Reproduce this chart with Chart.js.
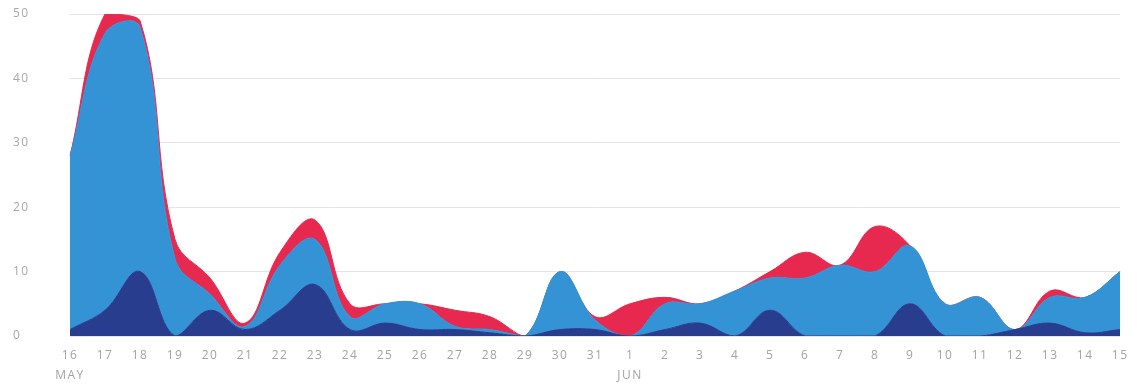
<!DOCTYPE html>
<html>
<head>
<meta charset="utf-8">
<script src="https://cdn.jsdelivr.net/npm/chart.js@4.4.1/dist/chart.umd.min.js"></script>
<style>
  html, body { margin: 0; padding: 0; background: #ffffff; }
  #wrap { width: 1137px; height: 385px; position: relative; }
</style>
</head>
<body>
<div id="wrap"><canvas id="chart"></canvas></div>
<script>
// Daily counts, 16 May – 15 Jun
const dayLabels = [
  ['16', 'MAY'], '17', '18', '19', '20', '21', '22', '23', '24', '25', '26', '27', '28', '29', '30', '31',
  ['1', 'JUN'], '2', '3', '4', '5', '6', '7', '8', '9', '10', '11', '12', '13', '14', '15'
];

// Stacked series, bottom to top
const seriesNavy = [1, 4, 10, 0, 4, 1, 4, 8, 1, 2, 1, 1, 0.5, 0, 1, 1,
                    0, 1, 2, 0, 4, 0, 0, 0, 5, 0, 0, 1, 2, 0.5, 1];
const seriesBlue = [27, 43, 38, 12, 2.5, 0.5, 7, 7, 2, 3, 4, 0.5, 0.5, 0, 9, 1.5,
                    0, 4, 3, 7, 5, 9, 11, 10, 9, 5, 6, 0, 4, 5.5, 9];
const seriesRed  = [0, 3, 1, 3, 2.5, 0.5, 2, 3, 2, 0, 0, 2.5, 2, 0, 0, 0.5,
                    5, 1, 0, 0, 1, 4, 0, 7, 0, 0, 0, 0, 1, 0, 0];

const yTicks = [0, 10, 20, 30, 40, 50];

const NAVY = '#283d8d';
const BLUE = '#3393d5';
const RED  = '#e8294f';

function areaSet(data, color, fill) {
  return {
    data: data,
    backgroundColor: color,
    borderColor: color,
    borderWidth: 1,
    fill: fill,
    tension: 0.4,
    pointRadius: 0,
    pointHoverRadius: 0
  };
}

// Slightly tracked-out axis text
const spacing = {
  id: 'labelSpacing',
  beforeDraw(chart) { chart.ctx.letterSpacing = '1.5px'; }
};

new Chart(document.getElementById('chart'), {
  type: 'line',
  data: {
    labels: dayLabels,
    datasets: [
      areaSet(seriesNavy, NAVY, 'origin'),
      areaSet(seriesBlue, BLUE, '-1'),
      areaSet(seriesRed, RED, '-1')
    ]
  },
  options: {
    responsive: true,
    maintainAspectRatio: false,
    animation: false,
    layout: { padding: { left: 13, right: 7, top: 14, bottom: 0 } },
    plugins: { legend: { display: false }, tooltip: { enabled: false } },
    elements: { line: { capBezierPoints: true } },
    scales: {
      x: {
        grid: { display: false, drawTicks: false },
        border: { display: false },
        ticks: {
          autoSkip: false,
          maxRotation: 0,
          padding: 10,
          color: '#a3a3a3',
          font: { family: 'Open Sans', size: 12, lineHeight: 1.65 }
        },
        afterFit(scale) { scale.height = 49; }
      },
      y: {
        stacked: true,
        min: 0,
        max: 50,
        afterBuildTicks(scale) { scale.ticks = yTicks.map(v => ({ value: v })); },
        grid: { color: '#e4e4e4', lineWidth: 1, drawTicks: false },
        border: { display: false },
        ticks: {
          crossAlign: 'far',
          padding: 0,
          color: '#a8a8a8',
          font: { family: 'Open Sans', size: 12 }
        },
        afterFit(scale) { scale.width = 57; }
      }
    }
  },
  plugins: [spacing]
});
</script>
</body>
</html>
